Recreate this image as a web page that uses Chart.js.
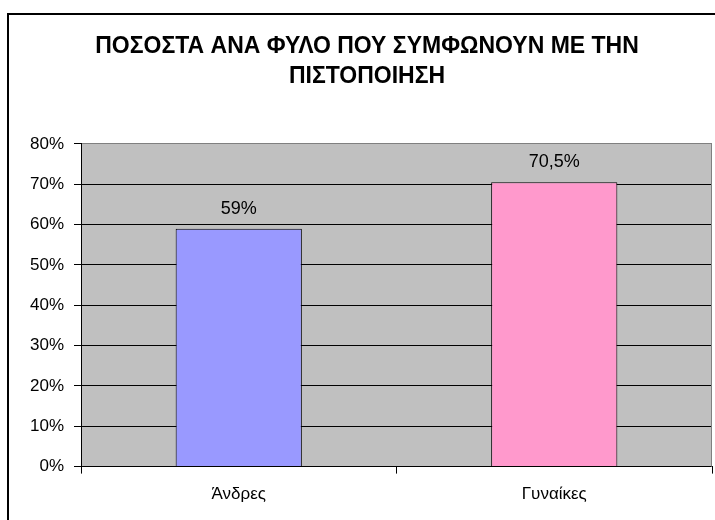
<!DOCTYPE html>
<html>
<head>
<meta charset="utf-8">
<script src="https://cdn.jsdelivr.net/npm/chart.js@4"></script>
<style>
  html, body { margin: 0; padding: 0; background: #fff; }
  #wrap { position: relative; width: 715px; height: 520px; }
</style>
</head>
<body>
<div id="wrap"><canvas id="chart" width="715" height="520"></canvas></div>
<script>
// -----------------------
// Data
// -----------------------
const titleLines = ['ΠΟΣΟΣΤΑ ΑΝΑ ΦΥΛΟ ΠΟΥ ΣΥΜΦΩΝΟΥΝ ΜΕ ΤΗΝ', 'ΠΙΣΤΟΠΟΙΗΣΗ'];
const categories = ['Άνδρες', 'Γυναίκες'];
const values = [59, 70.5];
const valueLabels = ['59%', '70,5%'];
const barColors = ['#9999FF', '#FF99CC'];
const yTicks = [0, 10, 20, 30, 40, 50, 60, 70, 80];

const FONT = 'Arial, "Liberation Sans", sans-serif';

// -----------------------
// Plugins
// -----------------------
// outer frame (runs off the right/bottom edge) + grey plot background
const frame = {
  id: 'frame',
  beforeDraw(chart) {
    const { ctx, chartArea: a } = chart;
    ctx.save();
    ctx.fillStyle = '#fff';
    ctx.fillRect(0, 0, chart.width, chart.height);
    ctx.strokeStyle = '#000';
    ctx.lineWidth = 2;
    ctx.strokeRect(8, 14, 800, 600);
    ctx.fillStyle = '#C0C0C0';
    ctx.fillRect(a.left, a.top, a.right - a.left, a.bottom - a.top);
    ctx.restore();
  },
  afterDatasetsDraw(chart) {
    const { ctx, chartArea: a } = chart;
    ctx.save();
    ctx.strokeStyle = '#808080';
    ctx.lineWidth = 1;
    ctx.beginPath();
    ctx.moveTo(a.right - 0.5, a.top);
    ctx.lineTo(a.right - 0.5, a.bottom);
    ctx.stroke();
    ctx.restore();
  }
};

// value labels above bars
const barLabels = {
  id: 'barLabels',
  afterDatasetsDraw(chart) {
    const { ctx } = chart;
    const meta = chart.getDatasetMeta(0);
    ctx.save();
    ctx.font = '18px ' + FONT;
    ctx.fillStyle = '#000';
    ctx.textAlign = 'center';
    ctx.textBaseline = 'middle';
    meta.data.forEach((bar, i) => {
      ctx.fillText(valueLabels[i], bar.x, bar.y - 20);
    });
    ctx.restore();
  }
};

// -----------------------
// Chart
// -----------------------
new Chart(document.getElementById('chart'), {
  type: 'bar',
  data: {
    labels: categories,
    datasets: [{
      data: values,
      backgroundColor: barColors,
      borderColor: '#000',
      borderWidth: 1,
      barPercentage: 0.4,
      categoryPercentage: 1
    }]
  },
  options: {
    responsive: false,
    animation: false,
    layout: { padding: { left: 22, right: 3, top: 0, bottom: 4 } },
    plugins: {
      legend: { display: false },
      tooltip: { enabled: false },
      title: {
        display: true,
        text: titleLines,
        color: '#000',
        font: { family: FONT, size: 23, weight: 'bold', lineHeight: 1.326 },
        padding: { top: 31, bottom: 52 }
      }
    },
    scales: {
      x: {
        offset: true,
        grid: {
          display: true,
          drawOnChartArea: false,
          offset: true,
          color: '#000',
          tickLength: 7,
          tickColor: '#000'
        },
        border: { display: true, color: '#000', width: 1 },
        ticks: { color: '#000', font: { family: FONT, size: 17 }, padding: 11 }
      },
      y: {
        min: 0,
        max: 80,
        afterFit(scale) { scale.width = 59; },
        afterBuildTicks(scale) { scale.ticks = yTicks.map(v => ({ value: v })); },
        grid: {
          color: ctx => (ctx.tick && ctx.tick.value === 80 ? '#808080' : '#000'),
          lineWidth: 1,
          tickLength: 7,
          tickColor: '#000'
        },
        border: { display: true, color: '#000', width: 1 },
        ticks: {
          color: '#000',
          font: { family: FONT, size: 17 },
          padding: 10,
          callback: v => v + '%'
        }
      }
    }
  },
  plugins: [frame, barLabels]
});
</script>
</body>
</html>
